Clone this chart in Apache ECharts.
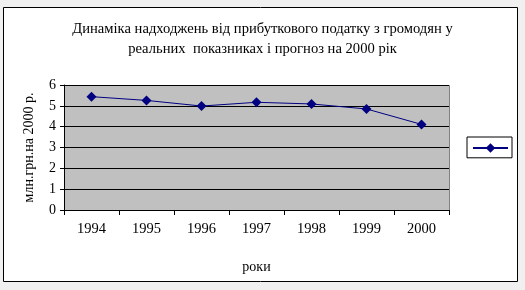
<!DOCTYPE html>
<html><head><meta charset="utf-8">
<script src="https://cdn.jsdelivr.net/npm/echarts@6/dist/echarts.min.js"></script>
<style>html,body{margin:0;padding:0;background:#f0f0f0;}#c{width:525px;height:290px;}</style>
</head><body><div id="c"></div>
<script>
const categories = ['1994','1995','1996','1997','1998','1999','2000'];
const values = [5.44, 5.26, 4.99, 5.17, 5.09, 4.85, 4.11];
const titleText = 'Динаміка надходжень від прибуткового податку з громодян у\nреальних  показниках і прогноз на 2000 рік';
const yName = 'млн.грн.на 2000 р.';
const xName = 'роки';

const chart = echarts.init(document.getElementById('c'), null, {renderer:'canvas'});
const font = '"Liberation Serif","Times New Roman",serif';
chart.setOption({
  backgroundColor: '#f0f0f0',
  animation: false,
  graphic: [
    {type:'rect', shape:{x:3.5,y:7.5,width:514,height:274}, style:{fill:'#fff', stroke:'#000', lineWidth:1}, z:-10},
    {type:'rect', shape:{x:64.5,y:85.5,width:385,height:125}, style:{fill:'#c0c0c0', stroke:'#808080', lineWidth:1}, z:-5}
  ],
  title: {
    text: titleText, left: 'center', top: 14,
    textStyle: {fontFamily: font, fontSize: 14.6, fontWeight: 'normal', color: '#000', lineHeight: 20}
  },
  legend: {
    data: ['s'], left: 467, top: 137, orient: 'vertical',
    formatter: () => '', itemWidth: 35, itemHeight: 12, itemGap: 0,
    padding: [5, 3, 5, 5], borderColor: '#000', borderWidth: 1, backgroundColor: '#fff',
    textStyle: {fontSize: 1}
  },
  grid: {left: 64, top: 85, right: 76, bottom: 80, containLabel: false},
  xAxis: {
    type: 'category', data: categories, boundaryGap: true,
    name: xName, nameLocation: 'middle', nameGap: 50,
    nameTextStyle: {fontFamily: font, fontSize: 14, color: '#000'},
    axisLine: {lineStyle: {color: '#000'}},
    axisTick: {show: true, length: 5, lineStyle: {color: '#000'}},
    axisLabel: {fontFamily: font, fontSize: 14.5, color: '#000', margin: 12},
    splitLine: {show: false}
  },
  yAxis: {
    type: 'value', min: 0, max: 6, interval: 1,
    name: yName, nameLocation: 'middle', nameGap: 28, nameRotate: 90,
    nameTextStyle: {fontFamily: font, fontSize: 14, color: '#000'},
    axisLine: {show: true, lineStyle: {color: '#000'}},
    axisTick: {show: true, length: 4, lineStyle: {color: '#000'}},
    axisLabel: {fontFamily: font, fontSize: 14, color: '#000', margin: 8},
    splitLine: {show: true, lineStyle: {color: '#000', width: 1}}
  },
  series: [{
    name: 's', type: 'line', data: values,
    symbol: 'diamond', symbolSize: 10,
    lineStyle: {color: '#000080', width: 1},
    itemStyle: {color: '#000080'}
  }]
});
</script></body></html>
